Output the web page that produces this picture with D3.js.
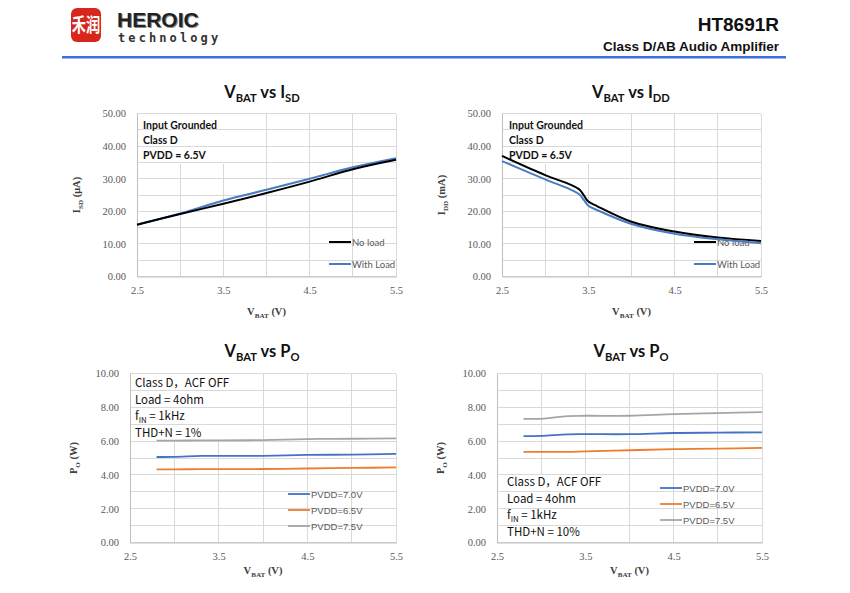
<!DOCTYPE html>
<html><head><meta charset="utf-8">
<script src="https://cdn.jsdelivr.net/npm/d3@7"></script>
<style>
body{margin:0;background:#fff;}
svg{display:block;}
</style></head>
<body>
<svg id="c" width="850" height="593"></svg>
<script>
// ---------- DATA ----------
const vbatIsd = [2.5, 3.0, 3.5, 4.0, 4.5, 5.0, 5.5];
const isdNoLoad = [15.9, 19.2, 22.3, 25.6, 29.1, 32.9, 35.8];
const isdWithLoad = [15.9, 19.3, 23.3, 26.6, 30.0, 33.5, 36.3];

const vbatIdd = [2.5, 3.0, 3.3, 3.4, 3.45, 3.5, 3.6, 4.0, 4.5, 5.0, 5.5];
const iddNoLoad = [37.0, 31.1, 28.1, 26.6, 24.8, 23.0, 21.6, 16.8, 13.8, 12.0, 10.9];
const iddWithLoad = [35.4, 29.8, 26.6, 25.1, 23.4, 21.7, 20.4, 16.1, 13.1, 11.4, 10.2];

const vbatPo = [2.8, 3.0, 3.3, 3.5, 4.0, 4.5, 5.0, 5.5];
const po1_70 = [5.06, 5.07, 5.12, 5.12, 5.13, 5.18, 5.20, 5.24];
const po1_65 = [4.33, 4.33, 4.34, 4.34, 4.35, 4.38, 4.41, 4.44];
const po1_75 = [6.03, 6.03, 6.04, 6.04, 6.06, 6.12, 6.14, 6.16];
const po10_70 = [6.29, 6.31, 6.40, 6.41, 6.41, 6.48, 6.50, 6.52];
const po10_65 = [5.36, 5.36, 5.36, 5.39, 5.46, 5.52, 5.55, 5.60];
const po10_75 = [7.32, 7.32, 7.48, 7.50, 7.50, 7.60, 7.66, 7.72];

const xTicks = [2.5, 3.5, 4.5, 5.5];
const iTicks = [0, 10, 20, 30, 40, 50];
const pTicks = [0, 2, 4, 6, 8, 10];
const legendLoad = ["No load", "With Load"];
const legendPvdd = ["PVDD=7.0V", "PVDD=6.5V", "PVDD=7.5V"];

// ---------- DRAW ----------
const svg = d3.select("#c");
const SANS = "Lato, 'Noto Sans', sans-serif";
const SERIF = "'Liberation Serif', 'DejaVu Serif', serif";

// header
const hdr = svg.append("g");
hdr.append("rect").attr("x", 71).attr("y", 8).attr("width", 30).attr("height", 34).attr("rx", 6).attr("fill", "#d9261c");
hdr.append("text").attr("x", 86).attr("y", 32).attr("text-anchor", "middle")
  .attr("font-family", "'Noto Sans CJK SC'").attr("font-size", 19).attr("font-weight", 700).attr("fill", "#fff")
  .attr("transform", "translate(86,0) scale(0.75,1) translate(-86,0)").text("禾润");
hdr.append("text").attr("x", 118).attr("y", 28).attr("font-family", "'Liberation Sans', Arial, sans-serif")
  .attr("font-size", 21).attr("font-weight", 700).attr("fill", "#888").text("HEROIC");
hdr.append("text").attr("x", 117).attr("y", 27).attr("font-family", "'Liberation Sans', Arial, sans-serif")
  .attr("font-size", 21).attr("font-weight", 700).attr("fill", "#222").text("HEROIC");
hdr.append("text").attr("x", 118).attr("y", 42).attr("font-family", "'DejaVu Sans Mono', monospace")
  .attr("font-size", 12).attr("font-weight", 700).attr("letter-spacing", 3.1).attr("fill", "#333").text("technology");
hdr.append("text").attr("x", 779).attr("y", 31).attr("text-anchor", "end").attr("font-family", "'Liberation Sans', Arial, sans-serif")
  .attr("font-size", 19).attr("font-weight", 700).attr("fill", "#111").text("HT8691R");
hdr.append("text").attr("x", 779).attr("y", 51).attr("text-anchor", "end").attr("font-family", "'Liberation Sans', Arial, sans-serif")
  .attr("font-size", 13.5).attr("font-weight", 700).attr("fill", "#111").text("Class D/AB Audio Amplifier");
hdr.append("rect").attr("x", 62).attr("y", 56).attr("width", 724).attr("height", 2.5).attr("fill", "#3a6fe3");

function subText(sel, parts, size) {
  parts.forEach(([t, sub]) => {
    sel.append("tspan").attr("font-size", sub === 1 ? size * 0.68 : size)
      .attr("dy", sub === 1 ? size * 0.25 : (sub === -1 ? -size * 0.25 : 0)).text(t);
  });
}

function chart(cfg) {
  const g = svg.append("g");
  const x = d3.scaleLinear().domain([2.5, 5.5]).range([cfg.x0, cfg.x1]);
  const y = d3.scaleLinear().domain([0, cfg.ymax]).range([cfg.y1, cfg.y0]);
  const grid = "#d9d9d9";
  d3.range(2.5, 5.51, 0.5).forEach(v => {
    g.append("line").attr("x1", x(v)).attr("x2", x(v)).attr("y1", cfg.y0).attr("y2", cfg.y1)
      .attr("stroke", grid).attr("stroke-width", 1).attr("shape-rendering", "crispEdges");
  });
  const bx = cfg.box;
  g.append("rect").attr("x", bx.x).attr("y", bx.y).attr("width", bx.w).attr("height", bx.h).attr("fill", "#fff");
  d3.range(0, cfg.ymax + 0.001, cfg.minor).forEach(v => {
    g.append("line").attr("x1", cfg.x0).attr("x2", cfg.x1).attr("y1", y(v)).attr("y2", y(v))
      .attr("stroke", grid).attr("stroke-width", 1).attr("shape-rendering", "crispEdges");
  });
  const ax = g.append("g").attr("transform", `translate(0,${cfg.y1})`)
    .call(d3.axisBottom(x).tickValues(xTicks).tickSize(0).tickPadding(10).tickFormat(d3.format(".1f")));
  ax.select(".domain").attr("stroke", "#bfbfbf");
  ax.selectAll("text").attr("font-family", SERIF).attr("font-size", 10.5).attr("fill", "#595959");
  const ay = g.append("g").attr("transform", `translate(${cfg.x0},0)`)
    .call(d3.axisLeft(y).tickValues(cfg.yTicks).tickSize(0).tickPadding(cfg.ypad).tickFormat(d3.format(".2f")));
  ay.select(".domain").attr("stroke", "#bfbfbf");
  ay.selectAll("text").attr("font-family", SERIF).attr("font-size", 10.5).attr("fill", "#595959");

  const tt = g.append("text").attr("x", cfg.tx).attr("y", cfg.ty).attr("text-anchor", "middle")
    .attr("font-family", SANS).attr("font-weight", 700).attr("font-size", 16.5).attr("fill", "#111");
  subText(tt, cfg.title, 16.5);
  const xt = g.append("text").attr("x", (cfg.x0 + cfg.x1) / 2).attr("y", cfg.xty).attr("text-anchor", "middle")
    .attr("font-family", SERIF).attr("font-weight", 700).attr("font-size", 10.5).attr("fill", "#404040");
  subText(xt, [["V", 0], ["BAT", 1], [" (V)", -1]], 10.5);
  const yt = g.append("text").attr("transform", `translate(${cfg.ytx},${(cfg.y0 + cfg.y1) / 2}) rotate(-90)`)
    .attr("text-anchor", "middle").attr("font-family", SERIF).attr("font-weight", 700).attr("font-size", 10.5).attr("fill", "#404040");
  subText(yt, cfg.ytitle, 10.5);

  cfg.notes.forEach((n, i) => {
    const t = g.append("text").attr("x", bx.tx).attr("y", bx.ty + i * bx.dy)
      .attr("font-family", cfg.noteFont).attr("font-weight", cfg.noteWeight).attr("font-size", cfg.noteSize).attr("fill", "#111");
    subText(t, n, cfg.noteSize);
  });

  cfg.series.forEach((s, i) => {
    const ly = cfg.leg.y + i * cfg.leg.dy;
    g.append("line").attr("x1", cfg.leg.x).attr("x2", cfg.leg.x + 22).attr("y1", ly).attr("y2", ly)
      .attr("stroke", s.color).attr("stroke-width", cfg.lw);
    g.append("text").attr("x", cfg.leg.x + 23).attr("y", ly + 3.5).attr("font-family", cfg.legFont)
      .attr("font-size", cfg.legSize).attr("fill", "#595959").text(s.name);
  });

  const line = d3.line().x(d => x(d[0])).y(d => y(d[1])).curve(d3.curveCatmullRom.alpha(0.5));
  cfg.series.slice().reverse().forEach(s => {
    g.append("path").datum(cfg.xs.map((v, i) => [v, s.values[i]]))
      .attr("d", line).attr("fill", "none").attr("stroke", s.color).attr("stroke-width", cfg.lw);
  });
}

const notesISD = [[["Input Grounded", 0]], [["Class D", 0]], [["PVDD = 6.5V", 0]]];
const notesPo1 = [[["Class D，ACF OFF", 0]], [["Load = 4ohm", 0]], [["f", 0], ["IN", 1], [" = 1kHz", -1]], [["THD+N = 1%", 0]]];
const notesPo10 = [[["Class D，ACF OFF", 0]], [["Load = 4ohm", 0]], [["f", 0], ["IN", 1], [" = 1kHz", -1]], [["THD+N = 10%", 0]]];

chart({
  x0: 137, x1: 396, y0: 113.5, y1: 276.5, ymax: 50, minor: 5, yTicks: iTicks, ypad: 11,
  tx: 262, ty: 98, title: [["V", 0], ["BAT", 1], [" vs I", -1], ["SD", 1]],
  xty: 315, ytx: 80, ytitle: [["I", 0], ["SD", 1], [" (μA)", -1]],
  box: { x: 138, y: 114, w: 88, h: 50, tx: 143, ty: 129, dy: 15 },
  notes: notesISD, noteFont: SANS, noteWeight: 700, noteSize: 10.5,
  leg: { x: 329, y: 242, dy: 22 }, legFont: SANS, legSize: 9.5, lw: 2,
  xs: vbatIsd,
  series: [{ name: legendLoad[0], color: "#000", values: isdNoLoad }, { name: legendLoad[1], color: "#4a7cc4", values: isdWithLoad }]
});
chart({
  x0: 502, x1: 761, y0: 113.5, y1: 276.5, ymax: 50, minor: 5, yTicks: iTicks, ypad: 11,
  tx: 631, ty: 98, title: [["V", 0], ["BAT", 1], [" vs I", -1], ["DD", 1]],
  xty: 315, ytx: 445, ytitle: [["I", 0], ["DD", 1], [" (mA)", -1]],
  box: { x: 503, y: 114, w: 88, h: 50, tx: 509, ty: 129, dy: 15 },
  notes: notesISD, noteFont: SANS, noteWeight: 700, noteSize: 10.5,
  leg: { x: 694, y: 242, dy: 22 }, legFont: SANS, legSize: 9.5, lw: 2,
  xs: vbatIdd,
  series: [{ name: legendLoad[0], color: "#000", values: iddNoLoad }, { name: legendLoad[1], color: "#4a7cc4", values: iddWithLoad }]
});
chart({
  x0: 130, x1: 396, y0: 373.5, y1: 542.5, ymax: 10, minor: 1, yTicks: pTicks, ypad: 11,
  tx: 262, ty: 357, title: [["V", 0], ["BAT", 1], [" vs P", -1], ["O", 1]],
  xty: 574, ytx: 77, ytitle: [["P", 0], ["O", 1], [" (W)", -1]],
  box: { x: 131, y: 374, w: 100, h: 66, tx: 135, ty: 387, dy: 16.5 },
  notes: notesPo1, noteFont: "'Noto Sans CJK SC', 'Noto Sans', sans-serif", noteWeight: 400, noteSize: 11.5,
  leg: { x: 288, y: 494, dy: 16 }, legFont: "'Liberation Sans', Arial, sans-serif", legSize: 9.5, lw: 1.8,
  xs: vbatPo,
  series: [{ name: legendPvdd[0], color: "#4472c4", values: po1_70 }, { name: legendPvdd[1], color: "#ed7d31", values: po1_65 }, { name: legendPvdd[2], color: "#a5a5a5", values: po1_75 }]
});
chart({
  x0: 497, x1: 762, y0: 373.5, y1: 542.5, ymax: 10, minor: 1, yTicks: pTicks, ypad: 11,
  tx: 631, ty: 357, title: [["V", 0], ["BAT", 1], [" vs P", -1], ["O", 1]],
  xty: 574, ytx: 444, ytitle: [["P", 0], ["O", 1], [" (W)", -1]],
  box: { x: 498, y: 474, w: 100, h: 68, tx: 507, ty: 486, dy: 16.5 },
  notes: notesPo10, noteFont: "'Noto Sans CJK SC', 'Noto Sans', sans-serif", noteWeight: 400, noteSize: 11.5,
  leg: { x: 660, y: 488, dy: 16 }, legFont: "'Liberation Sans', Arial, sans-serif", legSize: 9.5, lw: 1.8,
  xs: vbatPo,
  series: [{ name: legendPvdd[0], color: "#4472c4", values: po10_70 }, { name: legendPvdd[1], color: "#ed7d31", values: po10_65 }, { name: legendPvdd[2], color: "#a5a5a5", values: po10_75 }]
});
</script>
</body></html>
